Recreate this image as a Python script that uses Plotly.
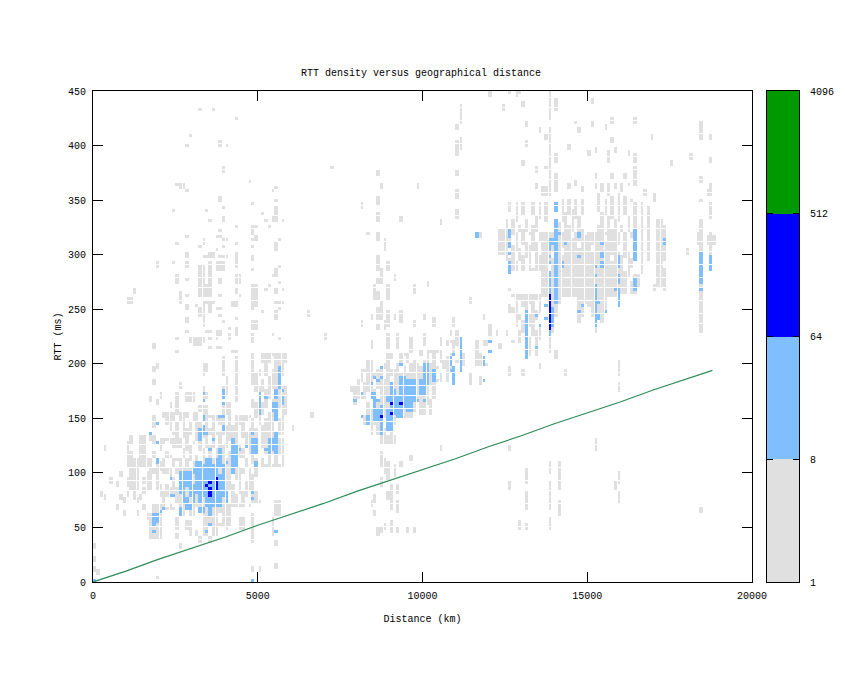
"""
RTT density versus geographical distance, gnuplot look.
"""

import math

import plotly.graph_objects as go

# cells: (km from, km to, ms from, ms to), bins are 100 km x 3 ms
grey_near = [
    (1700, 2000, 39, 60), (1800, 2000, 60, 69), (1900, 2400, 66, 84), (1900, 2500, 87, 108),
    (2000, 2500, 111, 129), (1100, 1300, 84, 108), (1100, 1100, 93, 117), (1000, 1600, 106, 112),
    (1400, 1500, 115, 132), (1700, 1800, 99, 132), (1600, 1700, 84, 99), (1000, 1000, 114, 126),
    (2500, 3200, 60, 135), (3200, 4100, 51, 135), (4100, 4700, 69, 135), (4700, 5000, 72, 132),
    (5000, 5500, 105, 132), (5500, 5600, 60, 72), (5400, 5700, 105, 130),
    (2200, 3200, 135, 153), (3200, 3400, 138, 160), (3400, 4800, 135, 150), (3900, 4100, 150, 162),
    (4800, 5800, 135, 207), (2800, 3000, 165, 172), (3900, 4000, 172, 205), (3300, 3400, 170, 198),
    (4300, 4300, 165, 205), (3300, 3400, 42, 60), (3600, 3700, 42, 54), (4000, 4000, 50, 62),
    (4400, 4500, 50, 57), (4800, 4800, 40, 60), (5400, 5400, 44, 57), (2500, 2500, 50, 57), (2800, 2900, 48, 54),
]
grey_near_holes = [
    (1900, 2000, 72, 75), (2100, 2100, 84, 96), (2200, 2300, 105, 111), (2400, 2400, 69, 78),
    (2400, 2500, 114, 120), (2500, 2500, 87, 96), (2500, 2500, 60, 69), (3000, 3000, 111, 123),
    (3100, 3100, 60, 66), (2900, 2900, 126, 132), (3200, 3200, 51, 60), (3300, 3300, 123, 129),
    (4100, 4100, 120, 126), (4500, 4500, 84, 96), (4400, 4400, 105, 111), (4700, 4700, 72, 81),
    (4600, 4600, 69, 75), (4600, 4600, 114, 120), (2000, 2000, 111, 117), (2300, 2300, 87, 93),
    (5200, 5200, 150, 156), (5000, 5000, 180, 186), (4900, 4900, 141, 147), (5400, 5400, 195, 204),
    (5100, 5100, 165, 171), (5800, 5800, 135, 150), (5800, 5800, 180, 200), (3400, 3400, 175, 190),
    (3800, 3900, 138, 141), (4200, 4200, 90, 96), (1800, 1800, 105, 111), (1800, 1800, 120, 123),
    (1700, 1700, 114, 126), (1900, 1900, 75, 81), (1900, 1900, 114, 120), (2000, 2000, 90, 99),
    (2100, 2100, 114, 123), (2200, 2200, 69, 75), (2200, 2200, 90, 96), (2200, 2200, 120, 126),
    (2300, 2300, 72, 78), (2300, 2300, 117, 123), (2400, 2400, 96, 102), (2500, 2500, 105, 108),
    (2600, 2600, 114, 120), (2600, 2600, 132, 135), (2700, 2700, 105, 111), (2700, 2700, 123, 129),
    (2800, 2800, 60, 64), (2800, 2800, 114, 117), (2900, 2900, 105, 108), (3000, 3000, 129, 135),
    (3100, 3100, 117, 126), (3200, 3200, 111, 117), (3400, 3400, 114, 120), (3500, 3500, 126, 132),
    (3600, 3600, 114, 120), (3700, 3700, 123, 132), (3800, 3800, 54, 60), (3900, 3900, 126, 132),
    (4000, 4000, 114, 120), (4100, 4100, 72, 81), (4300, 4300, 81, 90), (4400, 4400, 72, 78),
    (4400, 4400, 126, 132), (4500, 4500, 105, 111), (4500, 4500, 123, 129), (4600, 4600, 93, 102),
    (4700, 4700, 105, 114), (4800, 4800, 99, 105), (4900, 4900, 84, 93), (5000, 5000, 75, 132),
    (4900, 4900, 114, 117), (5100, 5100, 114, 120), (5200, 5200, 108, 114), (5400, 5400, 108, 114),
    (5600, 5600, 108, 114), (5000, 5000, 135, 141), (5100, 5100, 144, 150), (5200, 5200, 177, 186),
    (5300, 5300, 156, 165), (5300, 5300, 190, 198), (5400, 5400, 168, 174), (5500, 5500, 138, 144),
    (5600, 5600, 150, 156), (5700, 5700, 180, 186), (4800, 4800, 168, 177), (4900, 4900, 192, 207),
    (5000, 5000, 195, 207), (5100, 5100, 186, 198), (4800, 4800, 150, 156), (4900, 4900, 165, 171),
    (3900, 3900, 180, 186), (4000, 4000, 190, 205), (3300, 3300, 180, 186), (2200, 2200, 135, 141),
    (2400, 2400, 138, 144), (2800, 2800, 141, 147), (3200, 3200, 147, 153), (3300, 3300, 141, 144),
    (4000, 4000, 144, 150), (4400, 4400, 135, 141), (4600, 4600, 138, 144), (2300, 2300, 132, 135),
    (2500, 2500, 147, 153), (2600, 2600, 138, 144), (2900, 2900, 147, 153), (3000, 3000, 138, 144),
    (3500, 3500, 141, 147), (3700, 3700, 138, 144), (4200, 4200, 144, 150), (4700, 4700, 141, 147),
]
grey_near_sparse = [
    (3200, 3200, 434, 434), (3600, 3600, 434, 434), (4300, 4300, 425, 425), (2900, 2900, 410, 410),
    (2800, 2800, 401, 401), (3800, 3800, 404, 404), (4000, 4000, 401, 401), (3800, 3800, 399, 399),
    (3900, 3900, 377, 380), (2500, 2500, 365, 365), (2800, 2800, 359, 359), (4700, 4700, 368, 368),
    (5500, 5500, 362, 362), (5400, 5400, 359, 359), (3800, 3800, 349, 353), (5500, 5500, 350, 350),
    (4800, 4800, 347, 347), (3900, 3900, 344, 344), (3400, 3400, 341, 341), (5500, 5500, 337, 344),
    (5100, 5100, 338, 338), (3900, 3900, 330, 335), (3500, 3500, 332, 332), (5200, 5200, 332, 332),
    (5400, 5500, 330, 334), (5700, 5700, 332, 332), (4300, 4300, 326, 326), (4800, 4900, 326, 326),
    (5300, 5300, 326, 326), (4800, 4800, 320, 323), (3800, 3800, 323, 323), (2800, 2800, 317, 317),
    (3700, 3800, 317, 317), (4900, 4900, 317, 317), (2500, 2500, 311, 311), (3300, 3300, 310, 314),
    (3900, 4000, 313, 313), (4300, 4300, 311, 311), (4800, 4900, 313, 313), (5600, 5600, 313, 313),
    (3200, 3200, 308, 308), (3700, 3700, 305, 305), (3900, 3900, 308, 308), (4800, 4800, 308, 308),
    (5500, 5500, 305, 311), (2800, 2800, 298, 302), (3300, 3400, 299, 299), (3500, 3600, 298, 302),
    (3800, 4000, 299, 299), (4300, 4300, 288, 302), (4800, 4800, 295, 299), (2400, 2400, 292, 292),
    (2800, 2800, 288, 292), (3200, 3300, 275, 290), (3500, 3500, 283, 292), (3700, 3900, 286, 292),
    (4800, 4800, 287, 287), (5500, 5500, 283, 287), (5600, 5600, 290, 290), (2500, 2500, 275, 280),
    (2800, 2800, 278, 278), (3500, 3500, 275, 280), (3800, 3800, 275, 278), (4300, 4400, 275, 280),
    (5400, 5500, 280, 280), (5600, 5600, 275, 275), (3200, 3500, 262, 272), (4300, 4300, 265, 269),
    (4800, 4900, 262, 272), (5300, 5300, 272, 272), (5200, 5200, 269, 269), (5500, 5500, 265, 269),
    (5700, 5700, 269, 269), (2600, 2600, 257, 265), (2800, 2800, 263, 263), (3800, 3800, 263, 263),
    (4400, 4400, 263, 263), (3300, 3600, 257, 257), (4200, 4300, 252, 257), (4800, 4900, 252, 260),
    (5500, 5700, 257, 257), (2800, 2800, 250, 254), (3100, 3100, 254, 254), (3300, 3300, 242, 254),
    (3200, 3200, 243, 250), (3500, 3500, 246, 252), (3700, 3800, 250, 250), (3800, 3800, 245, 245),
    (4800, 4800, 250, 250), (5100, 5100, 247, 247), (5600, 5600, 250, 250), (5500, 5500, 242, 248),
    (2800, 2800, 238, 242), (3300, 3300, 234, 240), (3900, 3900, 238, 238), (4300, 4300, 242, 242),
    (4800, 4900, 233, 238), (2800, 2800, 229, 229), (3400, 3500, 229, 229), (3700, 3800, 225, 229),
    (4100, 4100, 233, 233), (4100, 4100, 226, 226), (4300, 4300, 225, 233), (4800, 4800, 220, 227),
    (5400, 5400, 226, 226), (2900, 3300, 220, 222), (3000, 3200, 217, 217), (2500, 2500, 222, 222),
    (3500, 3500, 222, 222), (3700, 3700, 222, 222), (4100, 4100, 222, 222), (5600, 5600, 222, 222),
    (3500, 3500, 215, 215), (3700, 3800, 215, 215), (4200, 4300, 212, 212), (2500, 2500, 212, 212),
    (1200, 1200, 265, 268), (1000, 1100, 255, 260),
    (1900, 1900, 290, 293), (1800, 1800, 215, 218), (2600, 2700, 360, 364), (2400, 2400, 340, 340),
    (200, 200, 80, 82), (300, 300, 75, 78), (500, 500, 90, 93), (700, 700, 66, 69), (800, 800, 75, 78),
    (900, 900, 60, 63), (1000, 1000, 87, 93), (1300, 1300, 60, 63), (1500, 1500, 81, 84),
    (1500, 1500, 126, 129), (1100, 1100, 126, 132), (1200, 1200, 75, 81), (0, 0, 9, 12), (0, 0, 30, 33),
    (0, 0, 20, 21), (100, 100, 6, 9), (300, 300, 120, 123), (1800, 1800, 141, 150), (1900, 1900, 162, 165),
    (1700, 1700, 165, 168), (1800, 1800, 180, 183), (1900, 1900, 195, 198), (2000, 2000, 170, 172),
    (2300, 2300, 160, 163), (2500, 2500, 155, 172), (2600, 2600, 178, 181), (2100, 2100, 150, 153),
    (1800, 1800, 192, 195), (1900, 1900, 3, 3), (5500, 5500, 12, 15), (4800, 4800, 9, 12), (3200, 3200, 36, 39),
    (3500, 3500, 36, 39), (4800, 4800, 36, 36), (5500, 5500, 33, 36), (5000, 5000, 10, 14),
    (800, 800, 96, 99), (1000, 1000, 78, 81), (900, 900, 72, 75), (700, 700, 87, 90), (1500, 1500, 66, 69),
    (1400, 1400, 75, 78), (1300, 1300, 72, 75), (1600, 1600, 57, 60), (1500, 1500, 90, 93),
    (2500, 2500, 39, 42), (2600, 2600, 30, 33), (2900, 2900, 42, 45), (3100, 3100, 42, 45),
]
grey_mid = [
    (8000, 8300, 168, 192), (8300, 8700, 153, 201), (8400, 9100, 135, 150), (8700, 9600, 150, 207),
    (9600, 10300, 168, 210), (10300, 10700, 183, 210), (10700, 11100, 192, 219),
    (9900, 10200, 153, 165), (7900, 7900, 162, 177), (7800, 7800, 174, 177), (8200, 8200, 144, 150),
    (11200, 11200, 199, 207), (11600, 11900, 199, 219), (11400, 11400, 180, 190), (11700, 11700, 182, 188),
    (8400, 8400, 213, 219), (8900, 8900, 213, 225), (9200, 9200, 213, 225), (9600, 9600, 213, 222),
    (10000, 10000, 216, 225), (10500, 10500, 216, 222), (10800, 10800, 225, 228), (11000, 11000, 222, 228),
]
grey_mid_holes = [
    (8200, 8200, 183, 189), (8300, 8300, 165, 171), (8500, 8500, 192, 201), (8700, 8700, 198, 207),
    (8800, 8800, 201, 207), (9000, 9000, 195, 201), (9200, 9200, 201, 207), (9400, 9400, 198, 204),
    (9700, 9700, 204, 210), (9900, 9900, 198, 204), (10200, 10200, 168, 177), (10400, 10400, 198, 207),
    (10600, 10600, 183, 192), (10700, 10700, 207, 213), (10900, 10900, 195, 204), (11000, 11000, 204, 213),
    (11800, 11800, 207, 213), (10100, 10100, 153, 159), (9800, 9800, 201, 210), (8600, 8600, 195, 201),
    (8100, 8100, 174, 180), (8000, 8000, 186, 192), (9100, 9100, 195, 207), (8400, 8400, 159, 165),
    (8500, 8500, 177, 183), (8600, 8600, 168, 174), (8800, 8800, 186, 192), (9000, 9000, 183, 186),
    (9300, 9300, 192, 198), (9500, 9500, 192, 198), (9600, 9600, 201, 207), (10000, 10000, 204, 210),
    (10100, 10100, 192, 198), (10200, 10200, 201, 207), (10400, 10400, 186, 192), (10500, 10500, 192, 198),
    (10600, 10600, 204, 210), (10800, 10800, 210, 216), (11000, 11000, 192, 198), (11900, 11900, 201, 213),
    (11700, 11700, 210, 219), (8700, 8700, 135, 138), (8500, 8500, 135, 141), (8800, 8800, 141, 147),
    (9100, 9100, 135, 141), (8900, 8900, 135, 138),
]
grey_mid_sparse = [
    (8600, 8600, 231, 234), (8600, 8600, 240, 249), (8600, 8600, 258, 264), (8600, 8600, 273, 276),
    (8600, 8600, 285, 297), (8600, 8600, 312, 318), (8600, 8600, 330, 336), (8600, 8600, 345, 351),
    (8900, 8900, 235, 246), (8900, 8900, 258, 270), (8900, 8900, 285, 291), (8400, 8400, 240, 245),
    (8500, 8500, 260, 270), (8700, 8700, 240, 255), (8700, 8700, 275, 285), (8800, 8800, 233, 238),
    (8800, 8800, 305, 312), (8100, 8100, 235, 238), (9100, 9100, 240, 244), (9300, 9300, 238, 246),
    (9300, 9300, 330, 334), (9700, 9700, 235, 238), (9700, 9700, 265, 272), (9100, 9100, 278, 281),
    (10000, 10000, 240, 243), (10100, 10100, 270, 273), (10300, 10300, 235, 240), (10900, 10900, 236, 240),
    (11000, 11000, 333, 339), (11000, 11000, 351, 357), (11000, 11000, 372, 375), (11000, 11000, 390, 402),
    (11000, 11000, 414, 417), (11100, 11100, 420, 435), (11100, 11100, 396, 405),
    (10500, 10500, 328, 331), (9800, 9800, 362, 365), (8600, 8600, 372, 375),
    (8700, 8700, 362, 365), (8100, 8100, 342, 345), (7200, 7200, 378, 380), (6500, 6500, 245, 248),
    (6600, 6600, 150, 153), (7000, 7000, 222, 225), (6000, 6000, 140, 143), (8300, 8300, 318, 320),
    (8700, 9100, 127, 132), (8700, 8700, 87, 93), (8700, 8700, 105, 117), (8800, 8800, 100, 111),
    (8900, 8900, 75, 81), (8900, 8900, 93, 108), (9000, 9000, 45, 54), (9000, 9000, 66, 87),
    (9100, 9100, 96, 105), (9200, 9200, 63, 72), (9200, 9200, 81, 87), (9200, 9200, 45, 48),
    (8500, 8500, 60, 63), (8500, 8500, 72, 78), (8400, 8400, 70, 72), (8600, 8600, 42, 48), (8700, 8700, 45, 48),
    (9300, 9300, 105, 108), (9600, 9600, 112, 115), (9700, 9700, 45, 48), (9500, 9500, 45, 48),
    (8800, 8800, 48, 51), (11700, 11700, 315, 318), (11800, 11800, 240, 245), (12000, 12000, 233, 236),
    (12200, 12200, 225, 228), (12300, 12300, 215, 218), (12000, 12000, 226, 228), (11400, 11400, 255, 258),
    (10500, 10500, 120, 123), (12600, 12600, 120, 123), (12600, 12600, 85, 90), (12900, 12900, 50, 54),
    (13100, 13100, 66, 81), (13100, 13100, 90, 102), (13100, 13100, 50, 52), (13800, 13800, 48, 57),
    (13800, 13800, 66, 90), (13800, 13800, 99, 108), (14100, 14100, 60, 72), (14100, 14100, 84, 108),
    (15200, 15200, 120, 130), (15900, 15900, 72, 81), (15900, 15900, 90, 100), (15800, 15800, 85, 90),
    (18400, 18400, 64, 66), (12000, 12000, 445, 450), (12800, 12800, 445, 448),
]
grey_far = [
    (13600, 15900, 262, 320), (12600, 13500, 285, 320), (12700, 13500, 219, 262), (13100, 13500, 207, 219),
    (13800, 14200, 219, 262), (14700, 15500, 228, 262), (15500, 15700, 249, 262), (15900, 16400, 264, 320),
    (12600, 13100, 320, 345), (13300, 13500, 320, 345), (14100, 14800, 320, 348), (15300, 16400, 320, 345),
    (12500, 12500, 294, 330), (12300, 12400, 300, 321), (15200, 16400, 348, 363),
    (16600, 16600, 282, 345), (16800, 16800, 294, 342), (17100, 17200, 270, 330), (17300, 17300, 295, 325),
    (18400, 18400, 238, 330), (18700, 18700, 285, 320), (18300, 18300, 310, 318), (18600, 18800, 309, 315),
    (12600, 12600, 246, 285), (13700, 13700, 330, 345),
]
grey_far_holes = [
    (12700, 12700, 222, 243), (12800, 12800, 219, 231), (12900, 12900, 231, 237), (12900, 12900, 246, 255),
    (13000, 13000, 219, 225), (13000, 13000, 240, 249), (13200, 13200, 225, 231), (13200, 13200, 246, 252),
    (13300, 13300, 207, 222), (13400, 13400, 231, 237), (13400, 13400, 249, 255), (13500, 13500, 207, 219),
    (13500, 13500, 237, 243), (12600, 12600, 255, 264), (12600, 12600, 270, 279), (12700, 12700, 252, 258),
    (12800, 12800, 264, 276), (12900, 12900, 285, 291), (13000, 13000, 300, 306), (13100, 13100, 285, 294),
    (13200, 13200, 309, 315), (13300, 13300, 288, 300), (13400, 13400, 270, 279), (13500, 13500, 300, 309),
    (12600, 12600, 297, 303), (12700, 12700, 309, 315), (12800, 12800, 294, 300), (12900, 12900, 306, 318),
    (13100, 13100, 312, 318), (13400, 13400, 312, 318), (12600, 12600, 324, 336), (12700, 12700, 333, 345),
    (12800, 12800, 321, 327), (12900, 12900, 327, 345), (13000, 13000, 324, 333), (13100, 13100, 333, 345),
    (13300, 13300, 327, 333), (13400, 13400, 336, 345), (13500, 13500, 321, 330), (14100, 14100, 330, 348),
    (14200, 14200, 321, 327), (14300, 14300, 339, 348), (14400, 14400, 327, 333), (14500, 14500, 342, 348),
    (14600, 14600, 321, 330), (14700, 14700, 336, 348), (14800, 14800, 324, 333), (15300, 15300, 327, 336),
    (15400, 15400, 339, 345), (15500, 15500, 321, 333), (15600, 15600, 336, 345), (15700, 15700, 324, 330),
    (15800, 15800, 333, 345), (15900, 15900, 321, 327), (16000, 16000, 327, 345), (16100, 16100, 321, 333),
    (16200, 16200, 336, 345), (16300, 16300, 321, 345), (15200, 15200, 348, 357), (15300, 15300, 357, 363),
    (15400, 15400, 348, 354), (15500, 15500, 351, 363), (15600, 15600, 348, 351), (15700, 15700, 354, 363),
    (15800, 15800, 348, 357), (15900, 15900, 357, 363), (16000, 16000, 348, 354), (16100, 16100, 354, 363),
    (16200, 16200, 348, 360), (16300, 16300, 351, 363), (16400, 16400, 348, 363), (13800, 13800, 285, 288),
    (13900, 13900, 297, 300), (14200, 14200, 300, 303), (14500, 14500, 315, 318), (14700, 14700, 306, 309),
    (14900, 14900, 318, 320), (15100, 15100, 303, 306), (15500, 15500, 312, 315), (15700, 15700, 294, 297),
    (15900, 15900, 303, 306), (16000, 16000, 300, 320), (16100, 16100, 285, 294), (16200, 16200, 264, 276),
    (16200, 16200, 303, 320), (16300, 16300, 276, 285), (16300, 16300, 297, 312), (16400, 16400, 282, 291),
    (14100, 14100, 219, 252), (14200, 14200, 219, 258), (14000, 14000, 219, 240), (13900, 13900, 219, 225),
    (14700, 14700, 228, 234), (14800, 14800, 228, 240), (14900, 14900, 228, 252), (15000, 15000, 228, 249),
    (15100, 15100, 228, 240), (15300, 15300, 228, 237), (15400, 15400, 228, 234), (15500, 15500, 228, 246),
    (15600, 15700, 249, 258),
]
grey_far_sparse = [
    (12600, 12600, 447, 450), (12900, 12900, 447, 450), (13800, 13800, 424, 447), (13800, 13800, 380, 414),
    (14000, 14000, 434, 441), (14000, 14000, 384, 390), (14000, 14000, 357, 372), (13800, 13800, 356, 375),
    (15100, 15100, 440, 443), (13000, 13000, 435, 438), (12400, 12400, 434, 436), (15100, 15100, 419, 422),
    (15200, 15200, 393, 396), (15500, 15500, 415, 418), (16400, 16400, 422, 425), (15700, 15700, 420, 424),
    (13100, 13100, 419, 420), (14600, 14600, 420, 422), (13500, 13500, 413, 416), (14700, 14700, 412, 415),
    (15700, 15700, 402, 405), (16900, 16900, 405, 408), (18400, 18400, 405, 420), (18700, 18700, 405, 408),
    (13100, 13100, 400, 402), (13700, 13700, 405, 408), (14400, 14400, 398, 400), (15000, 15000, 392, 395),
    (15600, 15600, 385, 395), (15800, 15800, 393, 396), (16200, 16200, 392, 395), (16400, 16400, 385, 390),
    (13000, 13000, 382, 384), (17500, 17500, 382, 384), (18100, 18100, 388, 390), (18700, 18700, 385, 387),
    (13400, 13400, 376, 378), (13700, 13700, 378, 380), (16400, 16400, 365, 378), (15200, 15200, 370, 373),
    (15700, 15700, 370, 372), (16100, 16100, 370, 372), (18400, 18400, 368, 370), (13400, 13400, 362, 364),
    (14600, 14600, 365, 368), (18700, 18700, 362, 365), (14800, 14800, 358, 360), (13600, 13700, 355, 362),
    (14400, 14400, 362, 364), (18600, 18700, 355, 358), (18400, 18400, 348, 350), (17000, 17000, 350, 355),
    (16700, 16700, 355, 358), (18700, 18700, 335, 345), (12500, 12500, 225, 228), (12600, 12600, 190, 196),
    (13500, 13500, 195, 198), (15900, 15900, 190, 195), (15900, 15900, 175, 180), (14300, 14300, 190, 192),
    (13000, 13000, 190, 192), (15900, 15900, 200, 202), (17300, 17300, 275, 285), (18400, 18400, 228, 234),
    (16500, 16500, 270, 280), (17000, 17000, 268, 272), (17300, 17300, 268, 272), (18000, 18000, 300, 305),
    (14000, 14000, 205, 210), (13800, 13800, 210, 216),
]
light_near = [
    (3300, 3900, 69, 105), (2600, 2900, 72, 99), (3000, 3200, 72, 102), (3100, 3200, 105, 108), (3400, 3500, 105, 113),
    (3700, 3800, 105, 111), (3300, 3300, 148, 150), (3300, 3300, 172, 172), (3300, 3300, 165, 165),
    (3300, 3300, 140, 142), (3200, 3200, 129, 138), (3300, 3400, 136, 136), (3600, 3600, 130, 130),
    (3500, 3500, 121, 121), (3800, 3800, 152, 152), (3800, 3800, 115, 120), (3900, 3900, 170, 175),
    (3900, 3900, 163, 163), (3900, 3900, 150, 150), (3900, 3900, 140, 143), (4000, 4000, 110, 110),
    (4200, 4200, 99, 131), (4300, 4300, 106, 125), (4400, 4400, 122, 122), (4600, 4600, 124, 124),
    (4800, 4800, 137, 137), (4800, 4900, 118, 131), (4900, 4900, 106, 110), (5000, 5000, 165, 171),
    (5000, 5000, 153, 162), (5200, 5200, 169, 169), (5200, 5200, 120, 120), (5300, 5300, 118, 131),
    (5400, 5400, 157, 162), (5400, 5400, 120, 129), (5500, 5500, 170, 175), (5500, 5500, 149, 162),
    (5500, 5500, 132, 135), (5500, 5500, 118, 129), (5600, 5600, 177, 197), (5700, 5700, 162, 168),
    (5700, 5700, 174, 174), (1800, 1800, 52, 52), (1800, 1900, 55, 60), (1800, 1800, 47, 47), (2000, 2000, 64, 64),
    (2100, 2100, 67, 67), (2600, 2600, 62, 66), (1900, 1900, 145, 145), (1700, 1700, 137, 137),
    (1900, 1900, 128, 128), (1900, 1900, 108, 112), (2300, 2300, 95, 95), (2300, 2400, 80, 80),
    (4000, 4000, 73, 82), (3500, 3500, 52, 52), (3400, 3400, 47, 47), (5500, 5500, 47, 47),
    (4800, 4800, 82, 82), (4800, 4800, 77, 77), (0, 0, 0, 2), (4800, 4800, 0, 2), (3200, 3300, 63, 66),
    (2800, 2900, 66, 69), (3500, 3500, 60, 66),
]
light_mid = [
    (7900, 7900, 167, 167), (8100, 8100, 173, 173), (8100, 8100, 150, 150), (8300, 8300, 150, 152),
    (8300, 8300, 144, 147), (8400, 8400, 180, 180), (8400, 8400, 170, 172), (8500, 8500, 187, 187),
    (8500, 8500, 170, 172), (8500, 8500, 149, 165), (8600, 8600, 184, 184), (8600, 8600, 148, 165),
    (8700, 8700, 197, 197), (8700, 8700, 187, 187), (8700, 8700, 136, 159), (8900, 8900, 139, 170),
    (9000, 9000, 139, 180), (9200, 9400, 150, 178), (9300, 9400, 180, 186), (9300, 9300, 200, 200),
    (9100, 9100, 146, 175), (9500, 9700, 158, 184), (9800, 9800, 165, 165), (9900, 10000, 171, 185),
    (10000, 10100, 181, 199), (10000, 10000, 165, 165), (10300, 10300, 185, 193), (10800, 10800, 199, 206),
    (10800, 10800, 192, 192), (10900, 10900, 184, 195), (10900, 10900, 209, 209), (10900, 10900, 180, 180),
    (11100, 11100, 193, 223), (12000, 12000, 221, 221), (12000, 12000, 212, 212), (11800, 11800, 199, 204),
    (11800, 11800, 185, 185), (11600, 11600, 316, 318),
]
light_far = [
    (12600, 12600, 315, 323), (12600, 12600, 307, 309), (12600, 12600, 300, 302), (12600, 12600, 288, 293),
    (12600, 12600, 283, 285), (13100, 13100, 204, 246), (13400, 13400, 243, 243), (13400, 13400, 213, 213),
    (13500, 13500, 234, 234), (13800, 13800, 304, 312), (13800, 13800, 297, 297), (13800, 13800, 291, 291),
    (13800, 13800, 265, 282), (13800, 13800, 225, 229), (13700, 13700, 254, 254), (13700, 13700, 241, 241),
    (13900, 13900, 234, 249), (13900, 13900, 310, 312), (14000, 14000, 345, 347), (14000, 14000, 339, 342),
    (14000, 14000, 304, 330), (14000, 14000, 284, 302), (14000, 14000, 265, 281), (14000, 14000, 255, 261),
    (14100, 14100, 318, 318), (14200, 14200, 288, 293), (14300, 14300, 310, 310), (14700, 14700, 316, 320),
    (14700, 14700, 297, 297), (14700, 14700, 248, 248), (14800, 14800, 254, 254), (15200, 15200, 288, 288),
    (15200, 15200, 281, 281), (15200, 15200, 234, 272), (15300, 15300, 255, 255), (15300, 15300, 240, 245),
    (15400, 15400, 310, 310), (15400, 15400, 297, 302), (15400, 15400, 288, 293), (15500, 15500, 248, 248),
    (15900, 15900, 288, 297), (15900, 15900, 274, 281), (15900, 15900, 252, 269), (15800, 15800, 268, 268),
    (16400, 16400, 304, 323), (16400, 16400, 295, 302), (16400, 16400, 274, 278), (16400, 16400, 267, 272),
    (17300, 17300, 309, 314), (18400, 18400, 282, 302), (18400, 18400, 274, 281), (18400, 18400, 267, 267),
    (18700, 18700, 285, 297),
]
# grey spots inside the light blue blocks
light_gaps = [
    (2800, 2800, 78, 84), (3000, 3000, 90, 96), (2900, 2900, 72, 75), (3100, 3100, 72, 78),
    (3300, 3300, 69, 75), (3900, 3900, 69, 75), (3800, 3800, 99, 102), (2600, 2600, 72, 78),
    (8600, 8600, 159, 162), (8900, 8900, 160, 163), (9200, 9200, 172, 178), (9400, 9400, 150, 156),
    (9700, 9700, 158, 162), (9100, 9100, 146, 150),
]
dark_cells = [
    (3500, 3500, 90, 90), (3400, 3400, 87, 87), (3700, 3700, 84, 93), (3500, 3500, 78, 84),
    (8700, 8700, 150, 150), (9000, 9000, 162, 162), (9000, 9000, 155, 155), (9300, 9300, 162, 162),
    (13800, 13800, 231, 261),
]

# count given to a cell of each class, on the log2 colour scale
grey_level = 1.5
light_level = 4.5
dark_level = 7.5

# minimum path line
line_km = [0, 500, 1000, 2000, 3000, 4000, 5000, 6000, 7000, 8000, 9000, 10000, 11000, 12000, 13000,
           14000, 15000, 16000, 17000, 18000, 18800]
line_ms = [0, 5, 10, 21, 31, 41, 52, 62, 72, 83, 93, 103, 113, 124, 134, 145, 155, 165, 176, 186, 194]

x_ticks = [0, 5000, 10000, 15000, 20000]
y_ticks = [0, 50, 100, 150, 200, 250, 300, 350, 400, 450]
cb_levels = [0, 3, 6, 9, 12]
cb_labels = ["1", "8", "64", "512", "4096"]
cb_colors = ["#e0e0e0", "#80bfff", "#0000ff", "#009900"]

W, H = 845, 673
LEFT, RIGHT, TOP, BOTTOM = 93, 752, 91, 582
CB_LEFT, CB_RIGHT = 767, 799
KM_BIN, MS_BIN = 100, 3
N_COLS, N_ROWS = 200, 150


def paint(grid, cells, level):
    for km_lo, km_hi, ms_lo, ms_hi in cells:
        for i in range(km_lo // KM_BIN, km_hi // KM_BIN + 1):
            for j in range(int(ms_lo) // MS_BIN, int(ms_hi) // MS_BIN + 1):
                if i < N_COLS and j < N_ROWS:
                    grid[j][i] = level


grid = [[None] * N_COLS for _ in range(N_ROWS)]
paint(grid, grey_near + grey_mid + grey_far, grey_level)
paint(grid, grey_near_holes + grey_mid_holes + grey_far_holes, None)
paint(grid, grey_near_sparse + grey_mid_sparse + grey_far_sparse, grey_level)
paint(grid, light_near + light_mid + light_far, light_level)
paint(grid, light_gaps, grey_level)
paint(grid, dark_cells, dark_level)

# stepped colour scale over log2(count)
scale = []
for n, color in enumerate(cb_colors):
    scale += [[n / 4, color], [(n + 1) / 4, color]]

# the white seams gnuplot leaves between cells when pixel rounding skips a column or row
seam_x, seam_y = [], []
km_px = (RIGHT - LEFT) / 20000
ms_px = (BOTTOM - TOP) / 450
for k in range(1, N_COLS):
    a = math.floor(LEFT + 1.3 + (k - 1) * KM_BIN * km_px)
    b = math.floor(LEFT + 1.3 + k * KM_BIN * km_px)
    if b - a == 4:
        km = (b - 0.5 - LEFT) / km_px
        seam_x += [km, km, None]
        seam_y += [0, 450, None]
for k in range(1, N_ROWS):
    a = math.floor(BOTTOM + 0.66 - k * MS_BIN * ms_px)
    b = math.floor(BOTTOM + 0.66 - (k - 1) * MS_BIN * ms_px)
    if b - a == 4:
        ms = (BOTTOM - b + 0.5) / ms_px
        seam_x += [0, 20000, None]
        seam_y += [ms, ms, None]

fig = go.Figure()
fig.add_trace(go.Heatmap(
    z=grid,
    x0=KM_BIN / 2, dx=KM_BIN,
    y0=MS_BIN / 2, dy=MS_BIN,
    zmin=0, zmax=12,
    colorscale=scale,
    showscale=False,
    hoverongaps=False,
))
fig.add_trace(go.Scatter(x=seam_x, y=seam_y, mode="lines", line=dict(color="white", width=1),
                         hoverinfo="skip", connectgaps=False))
fig.add_trace(go.Scatter(x=line_km, y=line_ms, mode="lines", line=dict(color="#2e8b57", width=1.2)))
fig.add_trace(go.Heatmap(
    z=[[n + 0.5] for n in range(4)],
    x=[0, 1],
    y=cb_levels,
    zmin=0, zmax=4,
    colorscale=[[v, c] for n, c in enumerate(cb_colors) for v in (n / 4, (n + 1) / 4)],
    showscale=False,
    xaxis="x2", yaxis="y2",
))

mono = "Liberation Mono, DejaVu Sans Mono, monospace"
axis_style = dict(
    automargin=False, showgrid=False, zeroline=False, showline=True, linecolor="black", linewidth=1,
    mirror="ticks", ticks="inside", tickcolor="black", ticklen=10, tickwidth=1,
    tickfont=dict(family=mono, size=10, color="black"),
)
fig.update_layout(
    width=W, height=H,
    margin=dict(l=0, r=0, t=0, b=0),
    paper_bgcolor="white", plot_bgcolor="white",
    showlegend=False,
    font=dict(family=mono, size=10, color="black"),
    title=dict(text="RTT density versus geographical distance", x=421 / W, xanchor="center",
               y=1 - 72 / H, yanchor="middle", font=dict(family=mono, size=10, color="black")),
    xaxis=dict(domain=[LEFT / W, RIGHT / W], range=[0, 20000], tickvals=x_ticks, ticktext=[str(v) for v in x_ticks],
               anchor="y", ticklabelstandoff=4,
               title=dict(text="Distance (km)", standoff=13, font=dict(family=mono, size=10)), **axis_style),
    yaxis=dict(domain=[1 - BOTTOM / H, 1 - TOP / H], range=[0, 450], tickvals=y_ticks, anchor="x",
               ticklabelstandoff=4,
               title=dict(text="RTT (ms)", standoff=4, font=dict(family=mono, size=10)), **axis_style),
    xaxis2=dict(domain=[CB_LEFT / W, CB_RIGHT / W], range=[0, 1], showticklabels=False, ticks="", automargin=False,
                showgrid=False, zeroline=False, showline=True, linecolor="black", mirror=True, anchor="y2"),
    yaxis2=dict(domain=[1 - BOTTOM / H, 1 - TOP / H], range=[0, 12], tickvals=cb_levels, ticktext=cb_labels,
                side="right", anchor="x2", automargin=False, showgrid=False, zeroline=False, showline=True,
                linecolor="black", mirror="ticks", ticks="inside", ticklen=6, tickcolor="black",
                ticklabelstandoff=8, tickfont=dict(family=mono, size=10, color="black")),
)

fig.write_html("out.html", config=dict(displayModeBar=False), post_script="document.body.style.margin='0';")
